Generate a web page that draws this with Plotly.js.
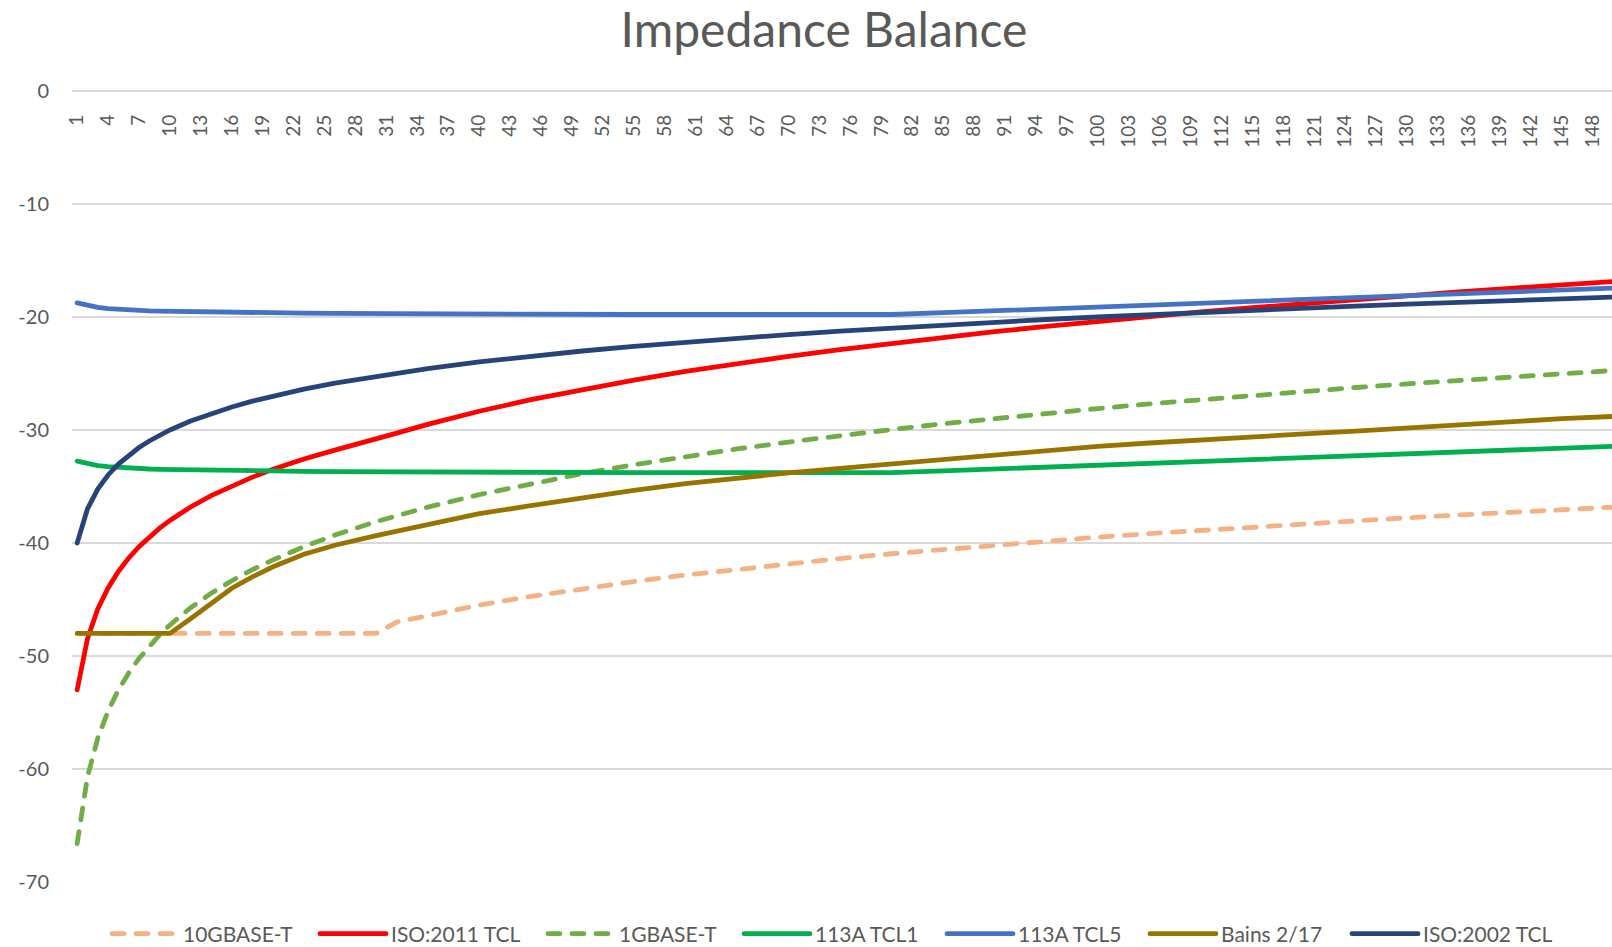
<!DOCTYPE html>
<html>
<head>
<meta charset="utf-8">
<script src="https://cdn.plot.ly/plotly-3.0.1.min.js"></script>
<style>
  html, body { margin: 0; padding: 0; background: #fff; }
  #chart { width: 1612px; height: 947px; }
  .scatterlayer path.js-line, .legendlines path { stroke-linecap: round; }
</style>
</head>
<body>
<div id="chart"></div>
<script>
// Category (x) positions where values were read
const freq = [1,2,3,4,5,6,7,8,9,10,12,14,16,18,20,23,26,30,32,35,40,45,50,55,60,65,70,75,80,85,90,95,100,105,110,115,120,125,130,135,140,145,150];

const tenGBaseT = [-48,-48,-48,-48,-48,-48,-48,-48,-48,-48,-48,-48,-48,-48,-48,-48,-48,-48,-47.0,-46.4,-45.5,-44.73,-44.04,-43.41,-42.84,-42.32,-41.83,-41.38,-40.95,-40.56,-40.18,-39.83,-39.49,-39.17,-38.87,-38.57,-38.3,-38.03,-37.77,-37.52,-37.28,-37.05,-36.83];

const iso2011 = [-53.0,-48.48,-45.84,-43.97,-42.52,-41.33,-40.32,-39.45,-38.69,-38.0,-36.81,-35.81,-34.94,-34.17,-33.48,-32.57,-31.78,-30.84,-30.28,-29.5,-28.34,-27.32,-26.4,-25.58,-24.82,-24.12,-23.48,-22.88,-22.32,-21.79,-21.3,-20.83,-20.38,-19.96,-19.55,-19.17,-18.8,-18.44,-18.1,-17.78,-17.46,-17.16,-16.86];

const oneGBaseT = [-66.6,-60.7,-57.26,-54.87,-53.01,-51.5,-50.22,-49.11,-48.13,-47.25,-45.73,-44.45,-43.34,-42.36,-41.49,-40.32,-39.3,-38.11,-37.58,-36.83,-35.72,-34.74,-33.86,-33.07,-32.35,-31.68,-31.07,-30.49,-29.96,-29.45,-28.98,-28.53,-28.1,-27.69,-27.31,-26.94,-26.58,-26.24,-25.92,-25.6,-25.3,-25.01,-24.73];

const tcl1_113A = [-32.75,-33.0,-33.15,-33.25,-33.32,-33.38,-33.42,-33.45,-33.48,-33.5,-33.54,-33.57,-33.6,-33.62,-33.64,-33.66,-33.68,-33.7,-33.75,-33.78,-33.78,-33.78,-33.78,-33.78,-33.78,-33.78,-33.78,-33.78,-33.78,-33.62,-33.45,-33.3,-33.15,-33.0,-32.83,-32.65,-32.48,-32.28,-32.08,-31.92,-31.76,-31.6,-31.44];

const tcl5_113A = [-18.75,-19.0,-19.15,-19.25,-19.32,-19.38,-19.42,-19.45,-19.48,-19.5,-19.54,-19.57,-19.6,-19.62,-19.64,-19.66,-19.68,-19.7,-19.75,-19.78,-19.78,-19.78,-19.78,-19.78,-19.78,-19.78,-19.78,-19.78,-19.78,-19.62,-19.45,-19.3,-19.15,-19.0,-18.83,-18.65,-18.48,-18.28,-18.08,-17.92,-17.76,-17.6,-17.44];

const bains217 = [-48,-48,-48,-48,-48,-48,-48,-48,-48,-48,-46.7,-45.3,-44.0,-43.0,-42.1,-41.0,-40.2,-39.35,-38.95,-38.3,-37.4,-36.7,-36.0,-35.35,-34.75,-34.25,-33.8,-33.4,-33.0,-32.55,-32.15,-31.8,-31.45,-31.15,-30.85,-30.6,-30.35,-30.1,-29.8,-29.5,-29.25,-29.0,-28.8];

const iso2002 = [-40,-36.99,-35.23,-33.98,-33.01,-32.22,-31.55,-30.97,-30.46,-30.0,-29.21,-28.54,-27.96,-27.45,-26.99,-26.38,-25.85,-25.23,-24.95,-24.56,-23.98,-23.47,-23.01,-22.6,-22.22,-21.87,-21.55,-21.25,-20.97,-20.71,-20.46,-20.22,-20.0,-19.79,-19.59,-19.39,-19.21,-19.03,-18.86,-18.7,-18.54,-18.39,-18.24];

const seriesNames = ['10GBASE-T','ISO:2011 TCL','1GBASE-T','113A TCL1','113A TCL5','Bains 2/17','ISO:2002 TCL'];

const xTickVals = [1,4,7,10,13,16,19,22,25,28,31,34,37,40,43,46,49,52,55,58,61,64,67,70,73,76,79,82,85,88,91,94,97,100,103,106,109,112,115,118,121,124,127,130,133,136,139,142,145,148];
const yTickVals = [0,-10,-20,-30,-40,-50,-60,-70];
const yTickLabels = ['0','-10','-20','-30','-40','-50','-60','-70'];

const seriesData = [tenGBaseT, iso2011, oneGBaseT, tcl1_113A, tcl5_113A, bains217, iso2002];
const colors = ['#F4B183','#FF0000','#70AD47','#00B050','#4472C4','#997300','#264478'];
const dashes = ['12px,12px','solid','12px,12px','solid','solid','solid','solid'];
const legendWidths = [127,147,115,122,122,121,130];

const traces = seriesData.map((ys, i) => ({
  type: 'scatter',
  mode: 'lines',
  name: seriesNames[i],
  x: freq,
  y: ys,
  line: { color: colors[i], width: 4.8, dash: dashes[i] },
  legendwidth: legendWidths[i],
  hoverinfo: 'skip'
}));

const FONT = 'Lato, "Open Sans", sans-serif';

const layout = {
  width: 1612,
  height: 947,
  margin: { l: 72, r: 0, t: 91, b: 65, pad: 0 },
  paper_bgcolor: '#ffffff',
  plot_bgcolor: '#ffffff',
  font: { family: FONT, color: '#595959', size: 20 },
  title: {
    text: 'Impedance Balance',
    font: { family: FONT, size: 48, color: '#595959' },
    xref: 'container', x: 824 / 1612, xanchor: 'center',
    yref: 'container', y: 1 - 30 / 947, yanchor: 'middle'
  },
  xaxis: {
    type: 'linear',
    range: [0.5, 149.87],
    tickmode: 'array',
    tickvals: xTickVals,
    tickangle: -90,
    tickfont: { family: FONT, size: 19, color: '#595959' },
    showgrid: false,
    zeroline: false,
    showline: false,
    ticks: '',
    anchor: 'free',
    position: 1,
    side: 'bottom',
    ticklabelstandoff: 19,
    fixedrange: true
  },
  yaxis: {
    range: [-70, 0],
    tickmode: 'array',
    tickvals: yTickVals,
    ticktext: yTickLabels,
    tickfont: { family: FONT, size: 20, color: '#595959' },
    showgrid: true,
    gridcolor: '#d9d9d9',
    gridwidth: 1.3,
    zeroline: true,
    zerolinecolor: '#d9d9d9',
    zerolinewidth: 1.3,
    showline: false,
    ticks: '',
    ticklabelstandoff: 22,
    fixedrange: true
  },
  showlegend: true,
  legend: {
    orientation: 'h',
    xref: 'container', yref: 'container',
    x: 107 / 1612, xanchor: 'left',
    y: 1 - 934 / 947, yanchor: 'middle',
    itemwidth: 66,
    font: { family: FONT, size: 21, color: '#595959' },
    bgcolor: 'rgba(0,0,0,0)',
    borderwidth: 0,
    traceorder: 'normal'
  }
};

Plotly.newPlot('chart', traces, layout, { staticPlot: true, displayModeBar: false });
</script>
</body>
</html>
